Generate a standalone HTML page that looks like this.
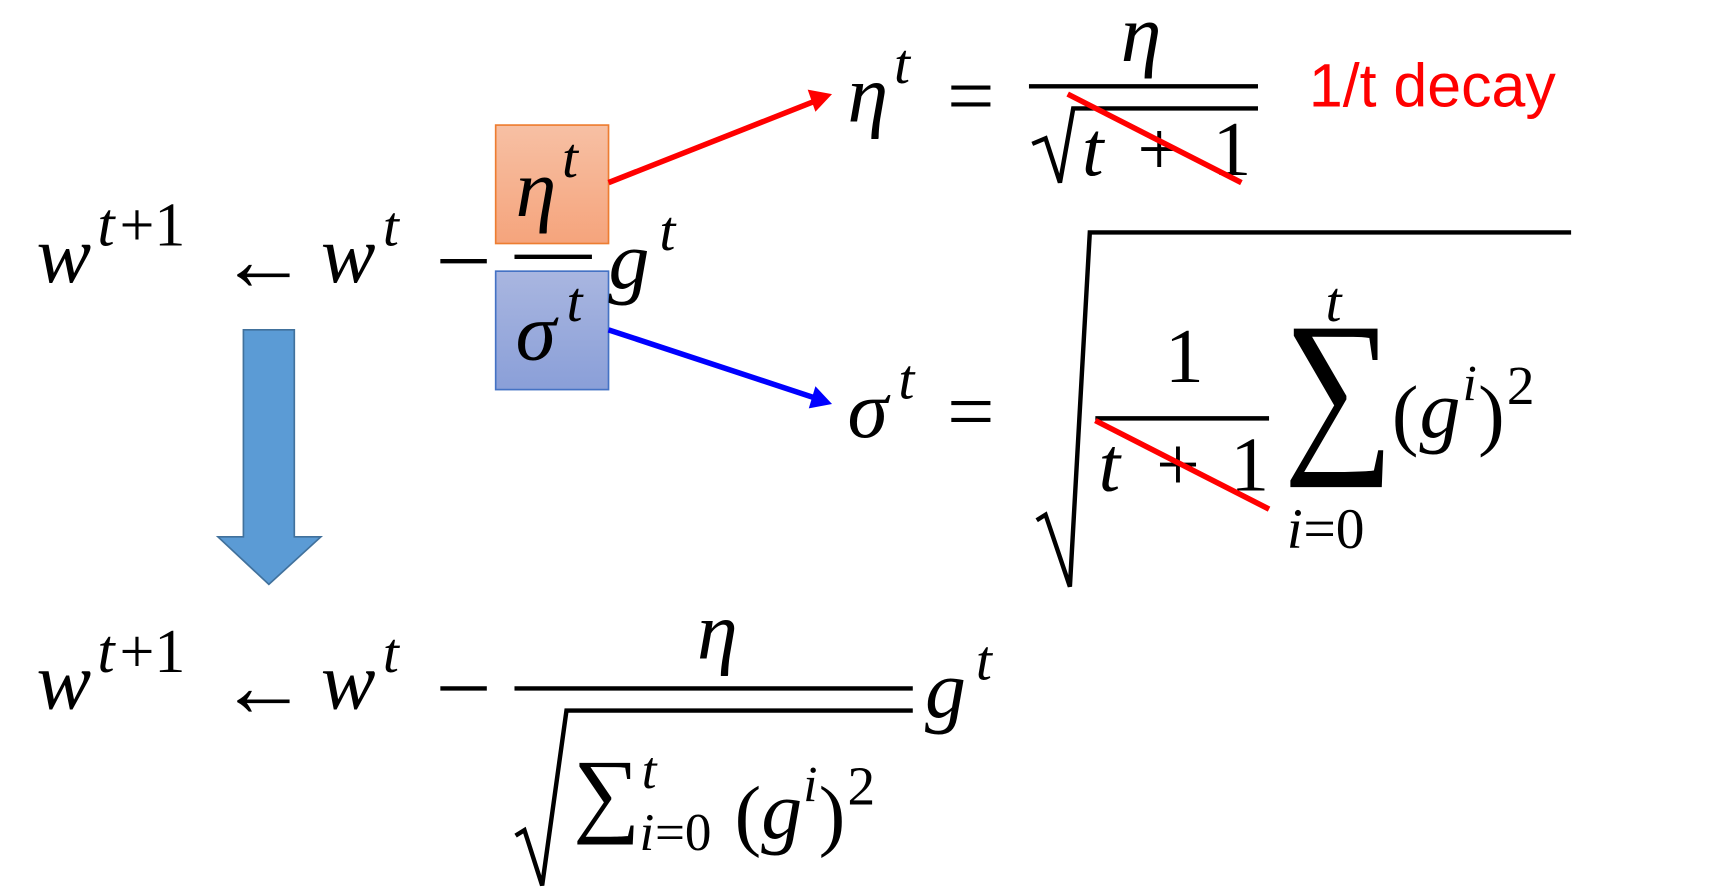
<!DOCTYPE html>
<html><head><meta charset="utf-8"><style>
html,body{margin:0;padding:0;background:#fff;}
svg{display:block}
text{font-family:"Liberation Serif",serif;font-style:italic;fill:#000}
.r{font-style:normal}
</style></head><body>
<svg width="1726" height="891" viewBox="0 0 1560 805" preserveAspectRatio="none" xmlns="http://www.w3.org/2000/svg">
<defs>
<linearGradient id="og" x1="0" y1="0" x2="0" y2="1"><stop offset="0" stop-color="#f7c0a4"/><stop offset="1" stop-color="#f5a47c"/></linearGradient>
<linearGradient id="bg" x1="0" y1="0" x2="0" y2="1"><stop offset="0" stop-color="#a9b6e0"/><stop offset="1" stop-color="#8a9fd8"/></linearGradient>
</defs>
<rect x="448" y="113" width="102" height="107" fill="url(#og)" stroke="#ed7d31" stroke-width="1.5"/>
<rect x="448" y="245" width="102" height="107" fill="url(#bg)" stroke="#4472c4" stroke-width="1.5"/>
<!-- top equation -->
<text x="33" y="255" font-size="74">w</text>
<text x="88" y="222" font-size="56">t</text><text x="108" y="222" font-size="56" class="r">+1</text>
<text x="198" y="262" font-size="80" class="r">←</text>
<text x="290" y="255" font-size="74">w</text>
<text x="346" y="222" font-size="52">t</text>
<line x1="398" y1="236" x2="440" y2="236" stroke="#000" stroke-width="4"/>
<line x1="465" y1="232" x2="535" y2="232" stroke="#000" stroke-width="4"/>
<text x="466" y="195" font-size="74">η</text><text x="508" y="160" font-size="52">t</text>
<text x="466" y="325" font-size="74">σ</text><text x="512" y="290" font-size="52">t</text>
<text x="550" y="260" font-size="74">g</text><text x="596" y="226" font-size="52">t</text>
<!-- arrows -->
<line x1="550" y1="165" x2="735" y2="92" stroke="#ff0000" stroke-width="5"/>
<polygon points="752,85 730,81 737,101" fill="#ff0000"/>
<line x1="550" y1="298" x2="735" y2="359" stroke="#0000ff" stroke-width="5"/>
<polygon points="752,365 737,349 731,369" fill="#0000ff"/>
<!-- eta eq -->
<text x="766" y="110" font-size="74">η</text><text x="808" y="75" font-size="52">t</text>
<text x="856" y="112" font-size="76" class="r">=</text>
<text x="1013" y="55" font-size="74">η</text>
<line x1="930" y1="78" x2="1137" y2="78" stroke="#000" stroke-width="4"/>
<polyline points="933,130 945,125 958,165 970,98 1137,98" fill="none" stroke="#000" stroke-width="4"/>
<text x="978" y="158" font-size="70">t</text><text x="1028" y="158" font-size="70" class="r">+</text><text x="1096" y="158" font-size="70" class="r">1</text>
<line x1="965" y1="85" x2="1122" y2="165" stroke="#ff0000" stroke-width="5"/>
<text x="1183" y="96" font-size="55" class="r" style="font-family:'Liberation Sans',sans-serif;fill:#ff0000">1/t decay</text>
<!-- sigma eq -->
<polyline points="937,470 945,465 967,530 985,210 1420,210" fill="none" stroke="#000" stroke-width="4"/>
<text x="766" y="395" font-size="74">σ</text><text x="812" y="360" font-size="52">t</text>
<text x="856" y="397" font-size="76" class="r">=</text>
<text x="1053" y="345" font-size="70" class="r">1</text>
<line x1="990" y1="378" x2="1147" y2="378" stroke="#000" stroke-width="4"/>
<text x="993" y="443" font-size="70">t</text><text x="1045" y="443" font-size="70" class="r">+</text><text x="1112" y="443" font-size="70" class="r">1</text>
<line x1="990" y1="380" x2="1147" y2="460" stroke="#ff0000" stroke-width="5"/>
<text x="1198" y="290" font-size="52">t</text>
<text x="1160" y="405" font-size="165" class="r" transform="translate(1160,0) scale(0.85,1) translate(-1160,0)">∑</text>
<text x="1163" y="495" font-size="52">i</text><text x="1178" y="495" font-size="52" class="r">=0</text>
<text x="1258" y="398" font-size="72" class="r">(</text><text x="1283" y="395" font-size="74">g</text><text x="1322" y="362" font-size="46">i</text><text x="1336" y="398" font-size="72" class="r">)</text><text x="1362" y="365" font-size="50" class="r">2</text>
<!-- big arrow -->
<polygon points="220,298 266,298 266,485 290,485 243,528 197,485 220,485" fill="#5b9bd5" stroke="#41719c" stroke-width="1.5"/>
<!-- bottom equation -->
<text x="33" y="640" font-size="74">w</text>
<text x="88" y="607" font-size="56">t</text><text x="108" y="607" font-size="56" class="r">+1</text>
<text x="198" y="647" font-size="80" class="r">←</text>
<text x="290" y="640" font-size="74">w</text>
<text x="346" y="607" font-size="52">t</text>
<line x1="398" y1="622" x2="440" y2="622" stroke="#000" stroke-width="4"/>
<text x="630" y="595" font-size="74">η</text>
<line x1="465" y1="622" x2="825" y2="622" stroke="#000" stroke-width="4"/>
<polyline points="466,755 474,750 490,800 512,642 825,642" fill="none" stroke="#000" stroke-width="4"/>
<text x="518" y="745" font-size="85" class="r">∑</text>
<text x="580" y="712" font-size="48">t</text>
<text x="578" y="768" font-size="48">i</text><text x="592" y="768" font-size="48" class="r">=0</text>
<text x="664" y="760" font-size="72" class="r">(</text><text x="688" y="757" font-size="74">g</text><text x="726" y="724" font-size="46">i</text><text x="740" y="760" font-size="72" class="r">)</text><text x="766" y="727" font-size="50" class="r">2</text>
<text x="836" y="648" font-size="74">g</text><text x="882" y="614" font-size="52">t</text>
</svg>
</body></html>
